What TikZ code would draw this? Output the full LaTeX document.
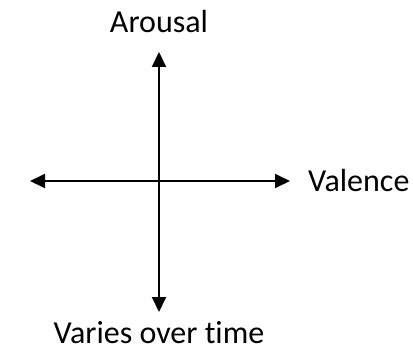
\documentclass[tikz,border=0pt]{standalone}
\usepackage{fontspec}
\setmainfont[Ligatures=NoCommon]{Carlito}
\usetikzlibrary{arrows.meta,positioning}
\tikzset{
  axis/.style={{Triangle[length=15pt,width=14pt]}-{Triangle[length=15pt,width=14pt]},line width=2pt,draw=black},
  axislabel/.style={inner sep=0pt,font=\fontsize{32}{36}\selectfont}
}
\begin{document}
\begin{tikzpicture}[x=1pt,y=-1pt]
\useasboundingbox (0,0) rectangle (413,353);
\coordinate (top) at (159,52);
\coordinate (bottom) at (159,312);
\coordinate (left) at (30,181);
\coordinate (right) at (290,181);
\node[axislabel,anchor=base] (arousal) at (159,33) {Arousal};
\node[axislabel,anchor=west] (valence) at (308,181) {Valence};
\node[axislabel,anchor=base] (varies) at (159,343) {Varies over time};
\draw[axis] (top) -- (bottom);
\draw[axis] (left) -- (right);
\end{tikzpicture}
\end{document}
